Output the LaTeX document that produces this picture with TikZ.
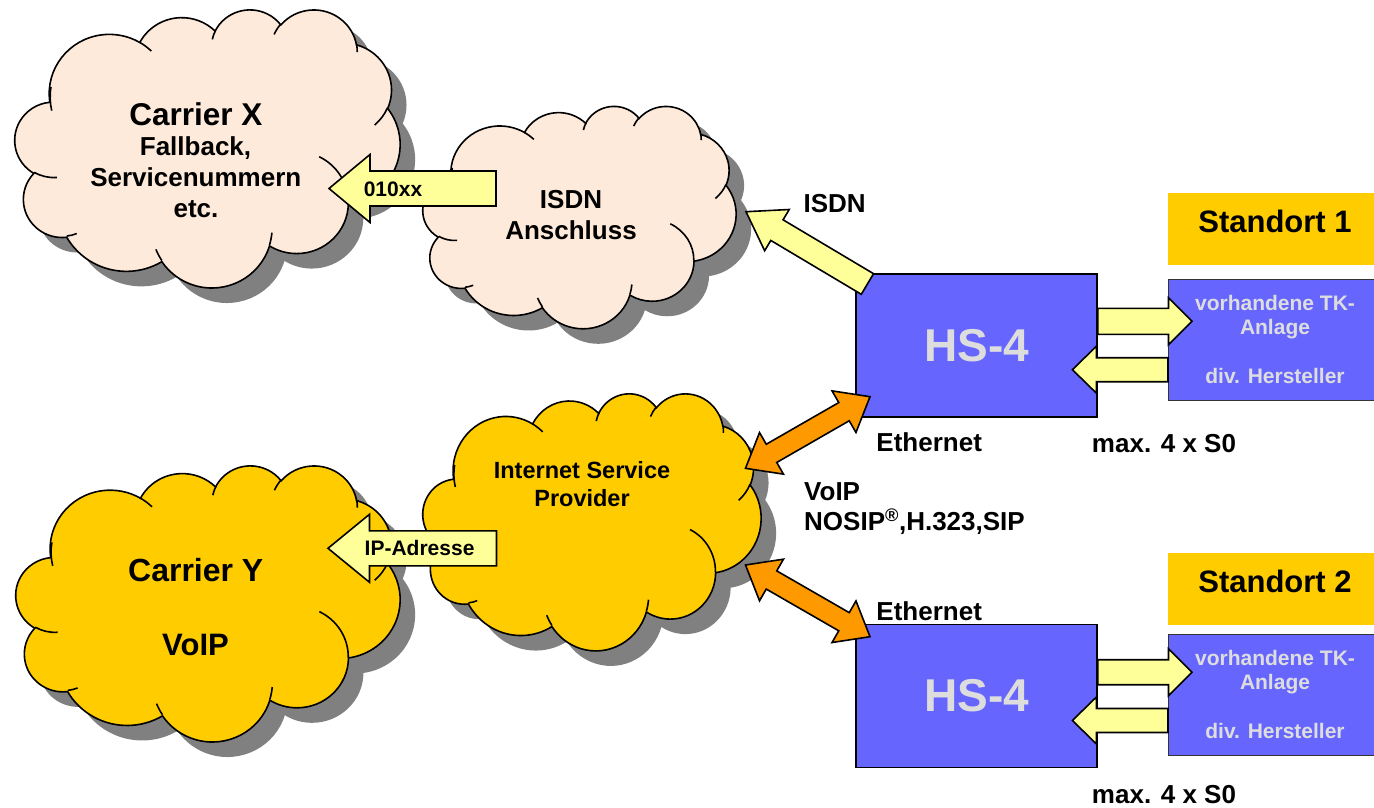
\documentclass[tikz,border=0pt]{standalone}
\usepackage{fontspec}
\setmainfont{Liberation Sans}
\usetikzlibrary{calc}
\definecolor{peach}{RGB}{253,234,218}
\definecolor{gold}{RGB}{255,204,0}
\definecolor{shadowgray}{RGB}{128,128,128}
\definecolor{arrowyellow}{RGB}{255,255,153}
\definecolor{arroworange}{RGB}{255,153,0}
\definecolor{boxblue}{RGB}{102,102,255}
\definecolor{lighttxt}{RGB}{221,221,221}
\definecolor{tkborder}{RGB}{51,51,51}
\newcommand\fsz[1]{\fontsize{#1}{#1}\selectfont\bfseries}
% one elliptical arc of the cloud outline (DrawingML arcTo, visual angles)
\newcommand\cloudarc[4]{%
  \pgfmathsetmacro\cTs{atan2((#1)*sin(#3),(#2)*cos(#3))}%
  \pgfmathsetmacro\cTe{atan2((#1)*sin(#3+#4),(#2)*cos(#3+#4))}%
  \pgfmathsetmacro\cD{\cTe-\cTs}%
  \pgfmathsetmacro\cD{\cD<0 ? \cD+360 : \cD}%
  \pgfmathsetmacro\cTf{\cTs+\cD}%
  \pgfpatharc{\cTs}{\cTf}{#1pt and #2pt}%
}
\newcommand\cloudoutline{%
  \pgfpathmoveto{\pgfpoint{39pt}{143.7pt}}%
  \cloudarc{67.53}{91.90}{-190.4875}{123.7805}%
  \cloudarc{53.33}{72.67}{-144.1024}{89.9452}%
  \cloudarc{43.65}{59.45}{-145.8079}{99.7230}%
  \cloudarc{48.57}{65.95}{-130.9861}{117.2417}%
  \cloudarc{53.33}{72.73}{-78.7089}{109.0269}%
  \cloudarc{67.75}{92.20}{-46.2673}{130.2690}%
  \cloudarc{57.85}{78.67}{0.6250}{114.0333}%
  \cloudarc{67.52}{92.15}{22.4516}{115.1726}%
  \cloudarc{77.20}{105.43}{66.2426}{75.7110}%
  \cloudarc{43.60}{59.18}{-274.9421}{146.7356}%
  \cloudarc{43.45}{59.45}{-246.8285}{152.5189}%
  \pgfpathclose}
\newcommand\cloudinner{%
  \pgfpathmoveto{\pgfpoint{46.93pt}{261.77pt}}\cloudarc{43.45}{59.45}{86.742}{26.4295}%
  \pgfpathmoveto{\pgfpoint{69.28pt}{348.99pt}}\cloudarc{43.60}{59.18}{73.6105}{11.4475}%
  \pgfpathmoveto{\pgfpoint{164.78pt}{390.90pt}}\cloudarc{67.52}{92.15}{137.6242}{14.0811}%
  \pgfpathmoveto{\pgfpoint{288.27pt}{347.51pt}}\cloudarc{67.52}{92.15}{6.4533}{15.9984}%
  \pgfpathmoveto{\pgfpoint{341.29pt}{229.54pt}}\cloudarc{57.85}{78.67}{-70.2924}{70.9174}%
  \pgfpathmoveto{\pgfpoint{417.98pt}{153.54pt}}\cloudarc{53.33}{72.73}{30.3180}{27.7515}%
  \pgfpathmoveto{\pgfpoint{383.24pt}{54.26pt}}\cloudarc{48.57}{65.95}{-13.7443}{14.8589}%
  \pgfpathmoveto{\pgfpoint{290.78pt}{39.52pt}}\cloudarc{48.57}{65.95}{-149.1815}{18.1954}%
  \pgfpathmoveto{\pgfpoint{221.41pt}{47.20pt}}\cloudarc{43.65}{59.45}{-163.4943}{17.6864}%
  \pgfpathmoveto{\pgfpoint{140.00pt}{51.92pt}}\cloudarc{67.53}{91.90}{-66.7070}{12.3194}%
  \pgfpathmoveto{\pgfpoint{41.27pt}{157.89pt}}\cloudarc{67.53}{91.90}{162.0443}{31.0381}%
}
% cloud with drop shadow: x0 y0 width height fill
\newcommand\drawcloud[5]{%
  \begin{scope}[shift={(#1+15,#2+15)}, xscale=#3/432, yscale=-#4/432]
    \cloudoutline\pgfsetfillcolor{shadowgray}\pgfusepath{fill}
  \end{scope}
  \begin{scope}[shift={(#1,#2)}, xscale=#3/432, yscale=-#4/432]
    \pgfsetlinewidth{1.6pt}\pgfsetstrokecolor{black}\pgfsetfillcolor{#5}%
    \cloudoutline\pgfusepath{fill,stroke}
    \cloudinner\pgfusepath{stroke}
  \end{scope}}
\newcommand\getvec[2]{%
  \path let \p1=($(#2)-(#1)$) in \pgfextra{%
    \pgfmathsetmacro\tmpA{atan2(\y1,\x1)}%
    \pgfmathsetmacro\tmpL{veclen(\x1,\y1)}%
    \global\let\bAng\tmpA\global\let\bLen\tmpL};}
% block arrow: style, from, to, body half width, head half width, head length
\newcommand\blockarrow[6]{\getvec{#2}{#3}%
  \draw[#1, shift={(#2)}, rotate=\bAng] (0pt,-#4pt) -- ({\bLen pt-#6pt},-#4pt) -- ({\bLen pt-#6pt},-#5pt)
    -- (\bLen pt,0pt) -- ({\bLen pt-#6pt},#5pt) -- ({\bLen pt-#6pt},#4pt) -- (0pt,#4pt) -- cycle;}
\newcommand\dblarrow[6]{\getvec{#2}{#3}%
  \draw[#1, shift={(#2)}, rotate=\bAng] (0pt,0pt) -- (#6pt,#5pt) -- (#6pt,#4pt) -- ({\bLen pt-#6pt},#4pt)
    -- ({\bLen pt-#6pt},#5pt) -- (\bLen pt,0pt) -- ({\bLen pt-#6pt},-#5pt) -- ({\bLen pt-#6pt},-#4pt)
    -- (#6pt,-#4pt) -- (#6pt,-#5pt) -- cycle;}
\begin{document}
\begin{tikzpicture}[x=1pt,y=-1pt,
  lbl/.style={inner sep=0pt, anchor=base},
  tktxt/.style={lbl, text=lighttxt, font=\fsz{21}},
  hsbox/.style={draw=black, line width=1.6pt, fill=boxblue, minimum width=241pt, minimum height=143pt,
    inner sep=0pt, text=lighttxt, font=\fsz{46}},
  tkbox/.style={draw=tkborder, line width=1.2pt, fill=boxblue, minimum width=214pt, minimum height=121pt,
    anchor=north west, inner sep=0pt},
  stbox/.style={fill=gold, minimum width=214pt, minimum height=72pt, anchor=north west, inner sep=0pt},
  yarrow/.style={draw=black, line width=1.6pt, fill=arrowyellow, line join=miter},
  oarrow/.style={draw=black, line width=1.6pt, fill=arroworange, line join=miter}]
\useasboundingbox (0,0) rectangle (1374,808);
\fill[white] (0,0) rectangle (1374,808);

% clouds
\drawcloud{15}{9}{385}{278}{peach}
\drawcloud{423}{105.7}{313}{222.3}{peach}
\drawcloud{16}{465}{384}{276}{gold}
\drawcloud{423}{393}{338}{257}{gold}

% boxes
\node[hsbox] (hs1) at (976.5,345.5) {HS-4};
\node[hsbox] (hs2) at (976.5,696) {HS-4};
\node[stbox] (st1) at (1168,192.3) {};
\node[stbox] (st2) at (1168,552.3) {};
\node[tkbox] (tk1) at (1168,279) {};
\node[tkbox] (tk2) at (1168,634) {};

% arrow end points
\coordinate (a010t) at (496,188.5);  \coordinate (a010h) at (329,188.5);
\coordinate (aipt) at (496.5,548.3); \coordinate (aiph) at (328,548.3);
\coordinate (aist) at (867.4,284);   \coordinate (aish) at (746,211.7);
\coordinate (o1a) at (745.5,468.3);  \coordinate (o1b) at (870,396.7);
\coordinate (o2a) at (745.5,565);    \coordinate (o2b) at (870,636.7);
\coordinate (r1a) at (hs1.east |- 0,321.3); \coordinate (r1b) at (1192,321.3);
\coordinate (l1a) at (tk1.west |- 0,369.7); \coordinate (l1b) at (1072.4,369.7);
\coordinate (r2a) at (hs2.east |- 0,672.2); \coordinate (r2b) at (1192,672.2);
\coordinate (l2a) at (tk2.west |- 0,720.5); \coordinate (l2b) at (1072.4,720.5);

% arrows
\blockarrow{yarrow}{a010t}{a010h}{17.5}{34}{41}
\blockarrow{yarrow}{aipt}{aiph}{17.5}{34}{41.5}
\blockarrow{yarrow}{aist}{aish}{12}{24}{36}
\dblarrow{oarrow}{o1a}{o1b}{10.5}{24}{30}
\dblarrow{oarrow}{o2a}{o2b}{10.5}{24}{30}
\blockarrow{yarrow}{r1a}{r1b}{13}{23.5}{23.5}
\blockarrow{yarrow}{l1a}{l1b}{12}{23.5}{24}
\blockarrow{yarrow}{r2a}{r2b}{12.5}{23.5}{23.5}
\blockarrow{yarrow}{l2a}{l2b}{12}{23.5}{24}

% cloud texts
\node[lbl, font=\fsz{31.5}] (cxa) at (196,125) {Carrier X};
\node[lbl, font=\fsz{26}] (cxb) at (195.5,155) {Fallback,};
\node[lbl, font=\fsz{26}] (cxc) at (195.8,186.5) {Servicenummern};
\node[lbl, font=\fsz{26}] (cxd) at (196,217.3) {etc.};
\node[lbl, font=\fsz{26}] (isa) at (571,208.3) {ISDN};
\node[lbl, font=\fsz{26}] (isb) at (571,239) {Anschluss};
\node[lbl, font=\fsz{23.5}] (ispa) at (582,478.3) {Internet Service};
\node[lbl, font=\fsz{23.5}] (ispb) at (582,506.7) {Provider};
\node[lbl, font=\fsz{32}] (cya) at (195.8,581.7) {Carrier Y};
\node[lbl, font=\fsz{31}] (cyb) at (195.5,655) {VoIP};

% arrow labels
\node[lbl, font=\fsz{21}] (t010) at (393,196.7) {010xx};
\node[lbl, font=\fsz{21}] (tip) at (419.6,555.7) {IP-Adresse};
\node[lbl, font=\fsz{26}] (tisdn) at (834.6,212.7) {ISDN};
\node[lbl, font=\fsz{26}] (eth1) at (929.2,451.7) {Ethernet};
\node[lbl, font=\fsz{26}] (eth2) at (929.2,620) {Ethernet};
\node[lbl, font=\fsz{26}] (max1) at (1164,452.7) {max. 4 x S0};
\node[lbl, font=\fsz{26}] (max2) at (1164,803.3) {max. 4 x S0};
\node[lbl, anchor=base west, font=\fsz{26}] (voip) at (804,500) {VoIP};
\node[lbl, anchor=base west, font=\fsz{26}] (nosip) at (804,530.7) {NOSIP\textsuperscript{®},H.323,SIP};

% site texts
\node[lbl, font=\fsz{31}] (st1t) at (1275,232.8) {Standort 1};
\node[lbl, font=\fsz{31}] (st2t) at (1275,592.8) {Standort 2};
\node[tktxt] (tk1a) at (1275,310) {vorhandene TK-};
\node[tktxt] (tk1b) at (1275,334.4) {Anlage};
\node[tktxt] (tk1c) at (1275,383.3) {div. Hersteller};
\node[tktxt] (tk2a) at (1275,665) {vorhandene TK-};
\node[tktxt] (tk2b) at (1275,689.4) {Anlage};
\node[tktxt] (tk2c) at (1275,738.3) {div. Hersteller};
\end{tikzpicture}
\end{document}
